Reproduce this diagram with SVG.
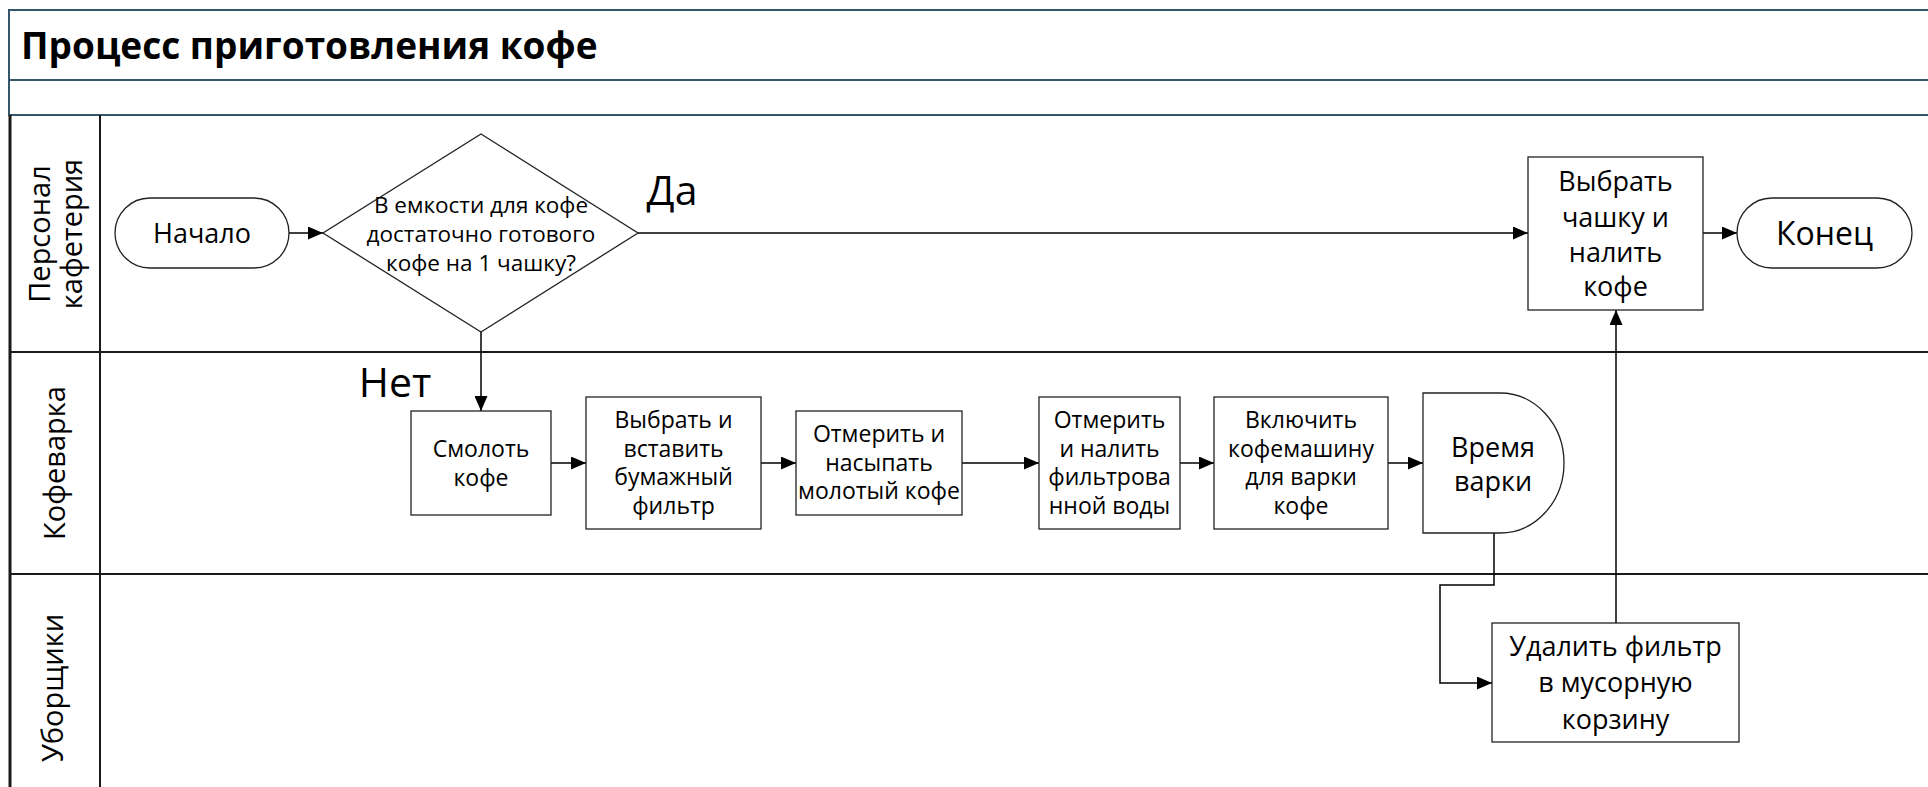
<svg xmlns="http://www.w3.org/2000/svg" width="1928" height="787" viewBox="0 0 1928 787">
<style>
.frame{fill:none;stroke:#34566a;stroke-width:2}
.lane{fill:none;stroke:#1a1a1a;stroke-width:2}
.node{fill:#fff;stroke:#222;stroke-width:1.3}
.conn{fill:none;stroke:#000;stroke-width:1.5}
.t{font-family:"Open Sans","Noto Sans","DejaVu Sans",sans-serif;fill:#000;text-anchor:middle}
.lbl{font-family:"Open Sans","Noto Sans","DejaVu Sans",sans-serif;fill:#000;text-anchor:middle;font-size:29px}
</style>
<defs>
<marker id="arr" markerWidth="15" markerHeight="13" refX="15" refY="6.5" orient="auto" markerUnits="userSpaceOnUse"><path d="M0,0 L15,6.5 L0,13 Z" fill="#000"/></marker>
</defs>
<rect x="0" y="0" width="1928" height="787" fill="#fff"/>
<g id="pool">
<rect class="frame" x="9" y="10" width="1930" height="70"/>
<rect class="frame" x="9" y="80" width="1930" height="35"/>
<text x="21" y="59" style="font-family:'Open Sans','Noto Sans',sans-serif;font-weight:bold;font-size:37px;fill:#000">Процесс приготовления кофе</text>
<line class="lane" x1="10" y1="115" x2="10" y2="790" style="stroke-width:3"/>
<line class="lane" x1="100" y1="115" x2="100" y2="790"/>
<line class="lane" x1="9" y1="352" x2="1930" y2="352"/>
<line class="lane" x1="9" y1="574" x2="1930" y2="574"/>
</g>
<g id="lane-labels">
<text class="lbl" transform="translate(50,234) rotate(-90)">Персонал</text>
<text class="lbl" transform="translate(82,234) rotate(-90)">кафетерия</text>
<text class="lbl" transform="translate(65,463) rotate(-90)">Кофеварка</text>
<text class="lbl" transform="translate(63,688) rotate(-90)">Уборщики</text>
</g>
<g id="connectors">
<path class="conn" d="M288,233 H323" marker-end="url(#arr)"/>
<path class="conn" d="M638,233 H1528" marker-end="url(#arr)"/>
<path class="conn" d="M481,332 V411" marker-end="url(#arr)"/>
<path class="conn" d="M551,463 H586" marker-end="url(#arr)"/>
<path class="conn" d="M761,463 H796" marker-end="url(#arr)"/>
<path class="conn" d="M962,463 H1039" marker-end="url(#arr)"/>
<path class="conn" d="M1180,463 H1214" marker-end="url(#arr)"/>
<path class="conn" d="M1388,463 H1423" marker-end="url(#arr)"/>
<path class="conn" d="M1494,533 V585 H1440 V683 H1492" marker-end="url(#arr)"/>
<path class="conn" d="M1616,623 V310" marker-end="url(#arr)"/>
<path class="conn" d="M1703,233 H1737" marker-end="url(#arr)"/>
<text class="t" x="672" y="205" style="font-size:41px">Да</text>
<text class="t" x="395" y="397" style="font-size:41px">Нет</text>
</g>
<g id="start">
<rect class="node" x="115" y="198" width="174" height="70" rx="35" ry="35"/>
<text class="t" x="202" y="243" style="font-size:27px">Начало</text>
</g>
<g id="decision">
<polygon class="node" points="481,134 638,233 481,332 323,233"/>
<text class="t" style="font-size:22.5px"><tspan x="481" y="213">В емкости для кофе</tspan><tspan x="481" y="242">достаточно готового</tspan><tspan x="481" y="271">кофе на 1 чашку?</tspan></text>
</g>
<g id="grind">
<rect class="node" x="411" y="411" width="140" height="104"/>
<text class="t" style="font-size:23px"><tspan x="481" y="457">Смолоть</tspan><tspan x="481" y="486">кофе</tspan></text>
</g>
<g id="filter">
<rect class="node" x="586" y="397" width="175" height="132"/>
<text class="t" style="font-size:23px"><tspan x="673.5" y="428">Выбрать и</tspan><tspan x="673.5" y="457">вставить</tspan><tspan x="673.5" y="485">бумажный</tspan><tspan x="673.5" y="514">фильтр</tspan></text>
</g>
<g id="measure-coffee">
<rect class="node" x="796" y="411" width="166" height="104"/>
<text class="t" style="font-size:23px"><tspan x="879" y="442">Отмерить и</tspan><tspan x="879" y="471">насыпать</tspan><tspan x="879" y="499">молотый кофе</tspan></text>
</g>
<g id="measure-water">
<rect class="node" x="1039" y="397" width="141" height="132"/>
<text class="t" style="font-size:23px"><tspan x="1109.5" y="428">Отмерить</tspan><tspan x="1109.5" y="457">и налить</tspan><tspan x="1109.5" y="485">фильтрова</tspan><tspan x="1109.5" y="514">нной воды</tspan></text>
</g>
<g id="switch-on">
<rect class="node" x="1214" y="397" width="174" height="132"/>
<text class="t" style="font-size:23px"><tspan x="1301" y="428">Включить</tspan><tspan x="1301" y="457">кофемашину</tspan><tspan x="1301" y="485">для варки</tspan><tspan x="1301" y="514">кофе</tspan></text>
</g>
<g id="brew-time">
<path class="node" d="M1423,393 H1500 A64,70 0 0 1 1500,533 H1423 Z"/>
<text class="t" style="font-size:27px"><tspan x="1493" y="457">Время</tspan><tspan x="1493" y="491">варки</tspan></text>
</g>
<g id="pour">
<rect class="node" x="1528" y="157" width="175" height="153"/>
<text class="t" style="font-size:27px"><tspan x="1615.5" y="191">Выбрать</tspan><tspan x="1615.5" y="227">чашку и</tspan><tspan x="1615.5" y="262">налить</tspan><tspan x="1615.5" y="296">кофе</tspan></text>
</g>
<g id="end">
<rect class="node" x="1737" y="198" width="175" height="70" rx="35" ry="35"/>
<text class="t" x="1824.5" y="245" style="font-size:32px">Конец</text>
</g>
<g id="remove-filter">
<rect class="node" x="1492" y="623" width="247" height="119"/>
<text class="t" style="font-size:27px"><tspan x="1615.5" y="656">Удалить фильтр</tspan><tspan x="1615.5" y="692">в мусорную</tspan><tspan x="1615.5" y="729">корзину</tspan></text>
</g>
</svg>
